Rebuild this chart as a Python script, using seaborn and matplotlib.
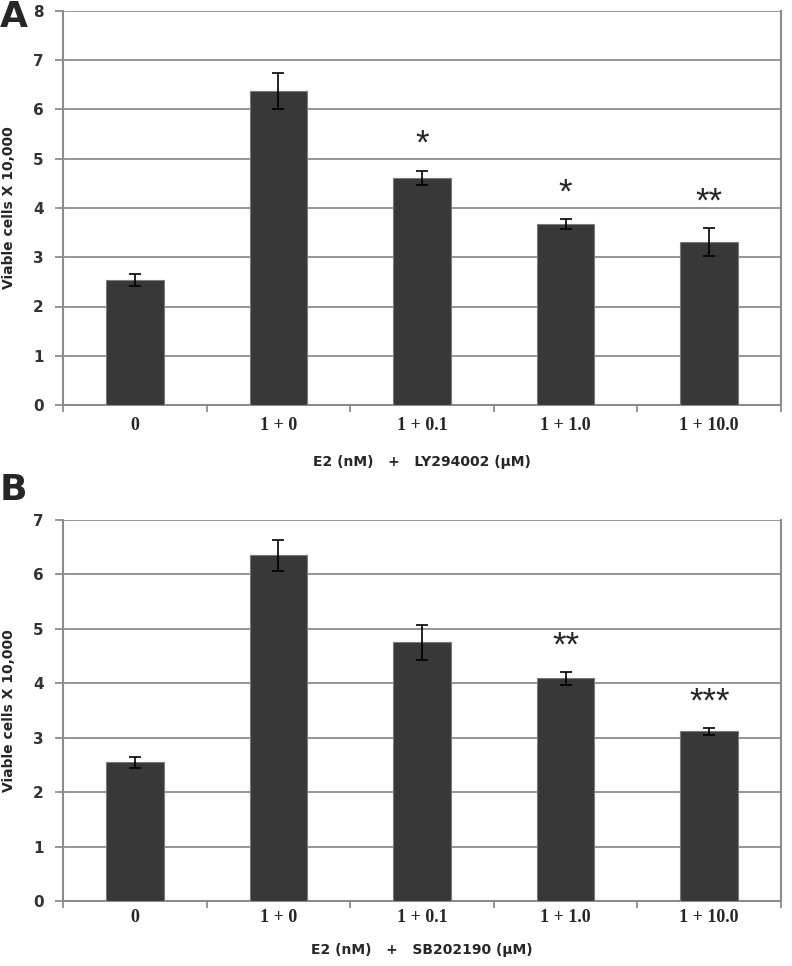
import matplotlib.pyplot as plt
from matplotlib.ticker import FixedLocator
import pandas as pd
import seaborn as sns

# Data
doses = ["0", "1 + 0", "1 + 0.1", "1 + 1.0", "1 + 10.0"]

ly_mean = [2.53, 6.38, 4.61, 3.68, 3.31]
ly_err = [0.12, 0.37, 0.15, 0.10, 0.28]
ly_stars = ["", "", "*", "*", "**"]

sb_mean = [2.55, 6.35, 4.75, 4.09, 3.12]
sb_err = [0.10, 0.28, 0.33, 0.12, 0.065]
sb_stars = ["", "", "", "**", "***"]

sns.set_style("white")
plt.rcParams["font.family"] = ["DejaVu Sans"]

GRID = "#8c8c8c"
BAR = "#383838"


def draw_panel(ax, means, errs, stars, ymax, xlabel, pad, labelpad):
    df = pd.DataFrame({"dose": doses, "cells": means})
    sns.barplot(data=df, x="dose", y="cells", order=doses, color=BAR,
                width=0.4, edgecolor="#7a7a7a", linewidth=0.8, saturation=1,
                errorbar=None, ax=ax, zorder=3)
    ax.errorbar(range(len(doses)), means, yerr=errs, fmt="none", ecolor="black",
                elinewidth=1.2, capsize=4, capthick=1.2, zorder=4)
    for i, s in enumerate(stars):
        if s:
            ax.annotate(s, (i, means[i] + errs[i]), xytext=(0, 26),
                        textcoords="offset pixels", ha="center", va="center",
                        fontsize=25, family="Liberation Sans", zorder=5)

    ax.set_xlim(-0.5, len(doses) - 0.5)
    ax.set_ylim(0, ymax)
    ax.set_yticks(range(0, ymax + 1))
    ax.yaxis.grid(True, color=GRID, linewidth=1.3, zorder=0)
    ax.set_axisbelow(True)
    for side in ["left", "bottom", "right"]:
        ax.spines[side].set_color(GRID)
        ax.spines[side].set_linewidth(1.5)
    ax.spines["top"].set_visible(False)

    ax.xaxis.set_minor_locator(FixedLocator([i - 0.5 for i in range(len(doses) + 1)]))
    ax.tick_params(axis="x", which="major", length=0, pad=pad)
    ax.tick_params(axis="x", which="minor", length=5, color=GRID, width=1.3, direction="out", bottom=True)
    ax.tick_params(axis="y", length=6, color=GRID, width=1.3, direction="out", left=True, pad=8)
    for lab in ax.get_xticklabels():
        lab.set_family("Liberation Serif")
        lab.set_fontweight("bold")
        lab.set_fontsize(13)
    for lab in ax.get_yticklabels():
        lab.set_fontweight("bold")
        lab.set_fontsize(11)
        lab.set_color("#333333")

    ax.set_xlabel(xlabel, fontsize=10, fontweight="bold", labelpad=labelpad)
    ax.set_ylabel("Viable cells X 10,000", fontsize=10, fontweight="bold", labelpad=12)


fig = plt.figure(figsize=(7.92, 9.66), dpi=100)
ax_a = fig.add_axes([63 / 792, 1 - 405 / 966, 718 / 792, 394 / 966])
ax_b = fig.add_axes([63 / 792, 1 - 901 / 966, 718 / 792, 381 / 966])

draw_panel(ax_a, ly_mean, ly_err, ly_stars, 8, "E2 (nM)   +   LY294002 (µM)", 9, 15)
draw_panel(ax_b, sb_mean, sb_err, sb_stars, 7, "E2 (nM)   +   SB202190 (µM)", 6, 12)

fig.text(0, 1 - 17 / 966, "A", fontsize=26, fontweight="bold", ha="left", va="center")
fig.text(0, 1 - 490 / 966, "B", fontsize=26, fontweight="bold", ha="left", va="center")

fig.savefig("out.png", dpi=100)
